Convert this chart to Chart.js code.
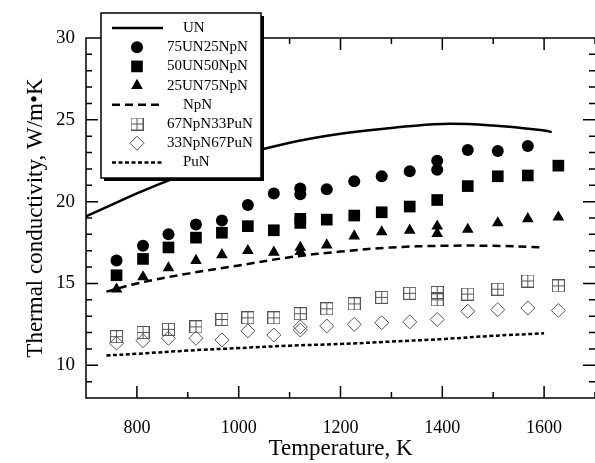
<!DOCTYPE html>
<html>
<head>
<meta charset="utf-8">
<script src="https://cdn.jsdelivr.net/npm/chart.js@4/dist/chart.umd.min.js"></script>
<style>
  html,body{margin:0;padding:0;background:#fff}
  #wrap{width:595px;height:463px;position:relative}
</style>
</head>
<body>
<div id="wrap"><canvas id="chart"></canvas></div>
<script>
// values (temperature in K, conductivity in W/m·K)
const unT   = [700,750,800,850,900,1000,1100,1200,1300,1400,1500,1600,1615];
const unK   = [19.1,19.8,20.5,21.15,21.75,22.8,23.6,24.15,24.5,24.75,24.65,24.35,24.25];

const u75T  = [760,812,862,916,967,1018,1069,1121,1121,1173,1227,1281,1336,1390,1390,1450,1509,1568];
const u75K  = [16.4,17.3,18.0,18.6,18.85,19.8,20.5,20.8,20.45,20.75,21.25,21.55,21.85,22.5,21.95,23.15,23.1,23.4];

const u50T  = [760,812,862,916,967,1018,1069,1121,1121,1173,1227,1281,1336,1390,1450,1509,1568,1628];
const u50K  = [15.5,16.5,17.2,17.8,18.1,18.5,18.25,18.95,18.7,18.9,19.15,19.35,19.7,20.1,20.95,21.55,21.6,22.2];

const u25T  = [760,812,862,916,967,1018,1069,1121,1121,1173,1227,1281,1336,1390,1390,1450,1509,1568,1628];
const u25K  = [14.65,15.4,15.95,16.4,16.75,17.0,16.9,17.2,16.95,17.35,17.9,18.15,18.25,18.5,18.05,18.3,18.7,18.95,19.05];

const npnT  = [740,800,900,1000,1100,1200,1300,1400,1500,1600];
const npnK  = [14.5,15.0,15.6,16.1,16.6,16.95,17.2,17.3,17.3,17.2];

const p33T  = [760,812,862,916,967,1018,1069,1121,1173,1227,1281,1336,1390,1390,1450,1509,1568,1628];
const p33K  = [11.75,12.0,12.2,12.35,12.8,12.9,12.9,13.15,13.45,13.75,14.15,14.4,14.45,14.0,14.35,14.65,15.15,14.85];

const p67T  = [760,812,862,916,967,1018,1069,1121,1121,1173,1227,1281,1336,1390,1450,1509,1568,1628];
const p67K  = [11.35,11.5,11.65,11.65,11.55,12.1,11.85,12.35,12.15,12.4,12.5,12.6,12.65,12.8,13.3,13.4,13.5,13.35];

const punT  = [740,800,900,1000,1100,1200,1300,1400,1500,1600];
const punK  = [10.6,10.7,10.9,11.05,11.2,11.3,11.45,11.6,11.8,11.95];

const labels = ['UN','75UN25NpN','50UN50NpN','25UN75NpN','NpN','67NpN33PuN','33NpN67PuN','PuN'];

const FONT = '"Liberation Serif","Times New Roman",serif';
const pts = (xs, ys) => xs.map((x, i) => ({x, y: ys[i]}));

// boxed-plus marker
const boxPlus = document.createElement('canvas');
boxPlus.width = 13; boxPlus.height = 13;
(function(){
  const c = boxPlus.getContext('2d');
  c.strokeStyle = '#555'; c.lineWidth = 1;
  c.strokeRect(0.5, 0.5, 12, 12);
  c.beginPath();
  c.moveTo(6.5, 0.5); c.lineTo(6.5, 12.5);
  c.moveTo(0.5, 6.5); c.lineTo(12.5, 6.5);
  c.stroke();
})();

const lineDs = (i, xs, ys, dash) => ({
  label: labels[i], data: pts(xs, ys), showLine: true, tension: 0.4,
  borderColor: '#000', borderWidth: 2.5, borderDash: dash, pointRadius: 0
});
const markDs = (i, xs, ys, style, r, fill, border, bw) => ({
  label: labels[i], data: pts(xs, ys), showLine: false,
  pointStyle: style, pointRadius: r, backgroundColor: fill,
  borderColor: border, pointBorderWidth: bw, pointBackgroundColor: fill, pointBorderColor: border
});

const datasets = [
  lineDs(0, unT, unK, []),
  markDs(1, u75T, u75K, 'circle', 6, '#000', '#000', 0),
  markDs(2, u50T, u50K, 'rect', 8.25, '#000', '#000', 0),
  markDs(3, u25T, u25K, 'triangle', 6.75, '#000', '#000', 0),
  lineDs(4, npnT, npnK, [8, 5]),
  markDs(5, p33T, p33K, boxPlus, 6.5, 'rgba(0,0,0,0)', '#555', 1),
  markDs(6, p67T, p67K, 'rectRot', 7, 'rgba(0,0,0,0)', '#555', 1),
  lineDs(7, punT, punK, [4, 2.5])
];

// plot frame (right edge falls off the page) with inward ticks on all four sides
const framePlugin = {
  id: 'frame',
  afterDatasetsDraw(chart) {
    const {ctx, chartArea: a, scales: {x, y}} = chart;
    ctx.save();
    ctx.strokeStyle = '#000'; ctx.lineWidth = 1.5;
    ctx.beginPath();
    ctx.moveTo(a.right + 2, a.top); ctx.lineTo(a.left, a.top);
    ctx.lineTo(a.left, a.bottom); ctx.lineTo(a.right + 2, a.bottom);
    x.ticks.forEach(t => {
      const px = x.getPixelForValue(t.value);
      const len = t.value % 200 === 0 ? 12 : 6;
      ctx.moveTo(px, a.bottom); ctx.lineTo(px, a.bottom - len);
      ctx.moveTo(px, a.top); ctx.lineTo(px, a.top + len);
    });
    y.ticks.forEach(t => {
      const py = y.getPixelForValue(t.value);
      const len = t.value % 5 === 0 ? 12 : 6;
      ctx.moveTo(a.left, py); ctx.lineTo(a.left + len, py);
      ctx.moveTo(a.right, py); ctx.lineTo(a.right - len, py);
    });
    ctx.stroke();
    ctx.restore();
  }
};

// boxed legend with drop shadow, drawn over the plot
const legendPlugin = {
  id: 'boxLegend',
  afterDraw(chart) {
    const ctx = chart.ctx;
    const bx = 101, by = 13, bw = 160, bh = 165;
    ctx.save();
    ctx.fillStyle = '#000';
    ctx.fillRect(bx + 3, by + 3, bw, bh);
    ctx.fillStyle = '#fff';
    ctx.fillRect(bx, by, bw, bh);
    ctx.strokeStyle = '#000'; ctx.lineWidth = 1.5;
    ctx.strokeRect(bx, by, bw, bh);
    ctx.font = '15px ' + FONT;
    ctx.textBaseline = 'middle';
    chart.data.datasets.forEach((ds, i) => {
      const yy = 28 + i * 19.2;
      if (ds.showLine) {
        ctx.save();
        ctx.strokeStyle = ds.borderColor; ctx.lineWidth = ds.borderWidth;
        ctx.setLineDash(ds.borderDash || []);
        ctx.beginPath(); ctx.moveTo(112, yy); ctx.lineTo(163, yy); ctx.stroke();
        ctx.restore();
        ctx.fillStyle = '#000';
        ctx.fillText(ds.label, 183, yy);
      } else {
        ctx.save();
        ctx.fillStyle = ds.pointBackgroundColor; ctx.strokeStyle = ds.pointBorderColor;
        ctx.lineWidth = ds.pointBorderWidth;
        Chart.helpers.drawPoint(ctx, {pointStyle: ds.pointStyle, rotation: 0, radius: ds.pointRadius, borderWidth: ds.pointBorderWidth}, 137, yy);
        ctx.restore();
        ctx.fillStyle = '#000';
        ctx.fillText(ds.label, 167, yy);
      }
    });
    ctx.restore();
  }
};

new Chart(document.getElementById('chart'), {
  type: 'scatter',
  data: { datasets },
  options: {
    responsive: true, maintainAspectRatio: false, animation: false, devicePixelRatio: 1,
    events: [],
    layout: { autoPadding: false, padding: { top: 38, right: -3, bottom: 0, left: 0 } },
    plugins: { legend: { display: false }, tooltip: { enabled: false } },
    scales: {
      x: {
        type: 'linear', min: 700, max: 1700,
        afterFit(s) { s.height = 65; s.paddingLeft = 0; s.paddingRight = 0; },
        grid: { display: false, drawTicks: false },
        border: { display: false },
        ticks: {
          stepSize: 100, padding: 19, color: '#000', maxRotation: 0, autoSkip: false,
          font: { family: FONT, size: 18 },
          callback: v => (v % 200 === 0 ? String(v) : '')
        },
        title: { display: true, text: 'Temperature, K', color: '#000', padding: { top: 0, bottom: 0 }, font: { family: FONT, size: 23 } }
      },
      y: {
        type: 'linear', min: 8, max: 30,
        afterFit(s) { s.width = 86; s.paddingTop = 0; s.paddingBottom = 0; },
        grid: { display: false, drawTicks: false },
        border: { display: false },
        ticks: {
          stepSize: 1, padding: 11, color: '#000', autoSkip: false,
          font: { family: FONT, size: 19 },
          callback: v => (v % 5 === 0 ? String(v) : '')
        },
        title: { display: true, text: 'Thermal conductivity, W/m\u2022K', color: '#000', padding: { top: 22, bottom: 0 }, font: { family: FONT, size: 23 } }
      }
    }
  },
  plugins: [framePlugin, legendPlugin]
});
</script>
</body>
</html>
